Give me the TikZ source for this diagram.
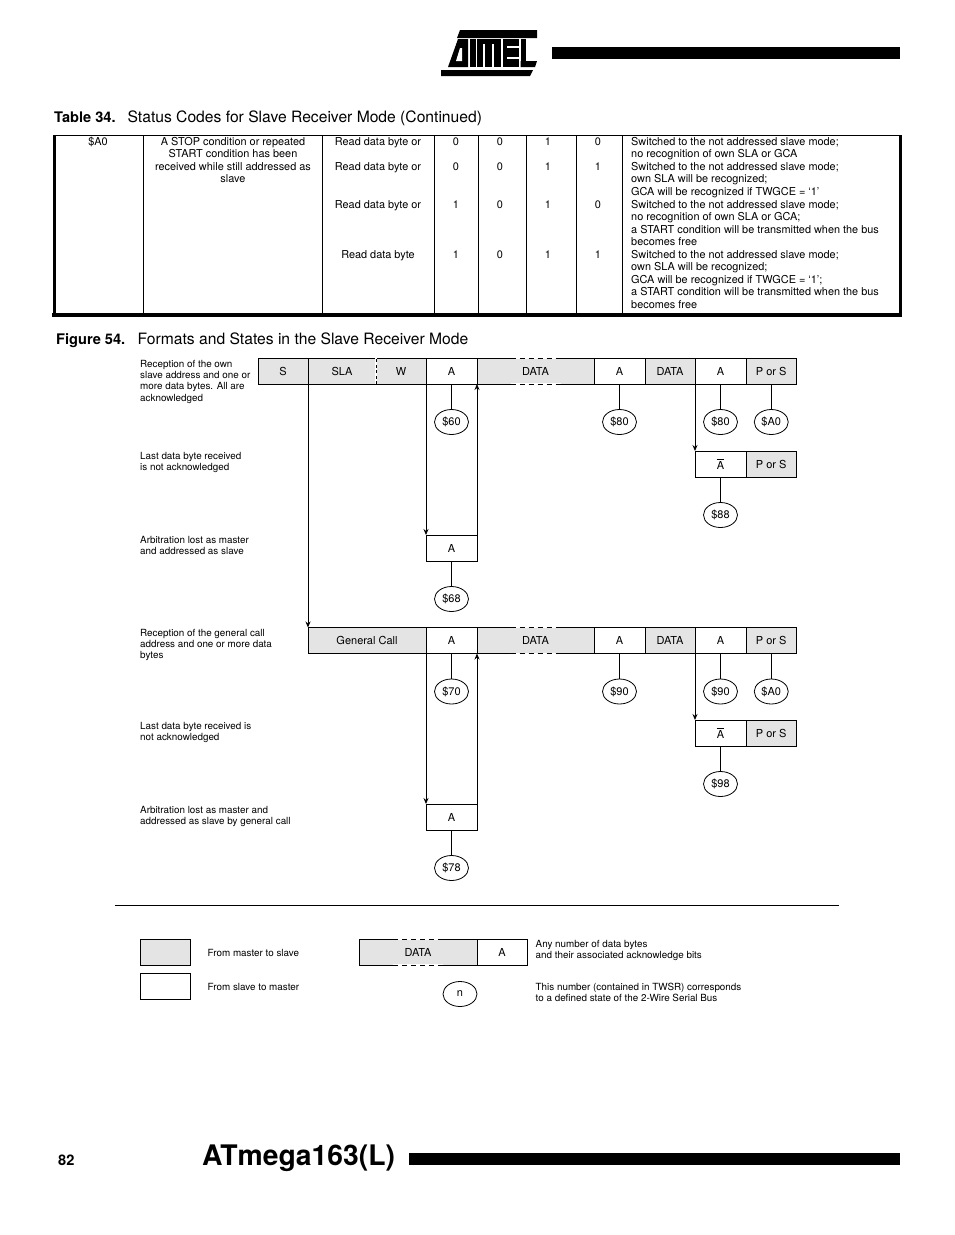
\documentclass[tikz,border=0pt]{standalone}
\usepackage{fontspec}
\setmainfont{TeX Gyre Heros}
\usepackage{tikz}
\usetikzlibrary{positioning,arrows.meta,shapes.geometric,calc}
\definecolor{mastergrey}{RGB}{228,228,228}
\tikzset{
  cell/.style={draw, line width=0.8pt, minimum height=26pt, minimum width=51pt, inner sep=0pt,
               outer sep=0pt, font=\fontsize{11}{13}\selectfont},
  greycell/.style={cell, fill=mastergrey},
  state/.style={draw, ellipse, line width=0.8pt, minimum width=34pt, minimum height=25pt,
                inner sep=0pt, outer sep=0pt, font=\fontsize{11}{13}\selectfont},
  note/.style={anchor=north west, align=left, inner sep=0pt, font=\fontsize{9.85}{11.2}\selectfont},
  tabletext/.style={anchor=north, align=center, inner sep=0pt, font=\fontsize{10.9}{12.5}\selectfont},
  tableleft/.style={tabletext, anchor=north west, align=left},
  title/.style={anchor=base west, inner sep=0pt, font=\fontsize{15.65}{17}\selectfont},
  arrow/.style={-{Stealth[length=6pt,width=5pt]}, line width=0.8pt},
  link/.style={line width=0.8pt},
  rulethin/.style={line width=0.9pt},
  rulethick/.style={line width=3.2pt},
}
% white gap with dashes over the top and bottom border of a data cell
\newcommand{\datagap}[1]{
  \foreach \side in {north,south} {
    \draw[white, line width=1.2pt] ($(#1.\side)+(-25,0)$) -- ($(#1.\side)+(25,0)$);
    \draw[line width=0.8pt, dash pattern=on 5pt off 4pt] ($(#1.\side)+(-25,0)$) -- ($(#1.\side)+(25,0)$);
  }
}
\begin{document}
\begin{tikzpicture}[x=1pt, y=-1pt, node distance=25.5pt]
  \useasboundingbox (0,0) rectangle (954,1235);

  % Header
  \fill (460,30) -- (537,30) -- (537,38) -- (457,38) -- cycle;
  \fill (448,67) -- (458,39) -- (468,39) -- (468,67) -- cycle;
  \fill[white] (456,61) -- (460,48) -- (462,48) -- (462,61) -- cycle;
  \fill (469.5,39) rectangle (475.5,67);
  \fill (477,39) rectangle (501,67);
  \fill[white] (483,44) rectangle (485,67);
  \fill[white] (492,44) rectangle (494,67);
  \fill (502.5,39) rectangle (519,67);
  \fill[white] (507,46) rectangle (519,48);
  \fill[white] (507,57) rectangle (519,59);
  \fill (520.5,39) rectangle (526,67);
  \fill (520.5,61) -- (537,61) -- (535,67) -- (520.5,67) -- cycle;
  \fill (441,70) -- (533,70) -- (530,76) -- (441,76) -- cycle;
  \fill (552,47) rectangle (900,59);

  % Table
  \node[title] (tabletitle) at (54,122) {\textbf{\fontsize{14.6}{17}\selectfont Table 34.}\hspace{12pt}Status Codes for Slave Receiver Mode (Continued)};
  \draw[rulethin] (54,135) -- (900,135);
  \foreach \colx in {143,322,434,478,526,576,622}
    \draw[rulethin] (\colx,135) -- (\colx,315);
  \draw[rulethick] (54.5,135) -- (54.5,315);
  \draw[rulethick] (900.5,135) -- (900.5,315);
  \draw[rulethick] (52,315) -- (902,315);

  \node[tabletext] (code) at (98,137) {\$A0};
  \node[tabletext] (cond) at (233,137) {A STOP condition or repeated\\START condition has been\\received while still addressed as\\slave};

  \node[tabletext] (read1) at (378,137) {Read data byte or};
  \node[tabletext] (read2) at (378,162) {Read data byte or};
  \node[tabletext] (read3) at (378,200) {Read data byte or};
  \node[tabletext] (read4) at (378,250) {Read data byte};

  \foreach \rowy/\bita/\bitb/\bitc/\bitd in {137.5/0/0/1/0,162.5/0/0/1/1,200.5/1/0/1/0,250.5/1/0/1/1} {
    \node[tabletext] at (456,\rowy) {\bita};
    \node[tabletext] at (500,\rowy) {\bitb};
    \node[tabletext] at (548,\rowy) {\bitc};
    \node[tabletext] at (598,\rowy) {\bitd};
  }

  \node[tableleft] (act1) at (631,137) {Switched to the not addressed slave mode;\\no recognition of own SLA or GCA};
  \node[tableleft] (act2) at (631,162) {Switched to the not addressed slave mode;\\own SLA will be recognized;\\GCA will be recognized if TWGCE = ‘1’};
  \node[tableleft] (act3) at (631,200) {Switched to the not addressed slave mode;\\no recognition of own SLA or GCA;\\a START condition will be transmitted when the bus\\becomes free};
  \node[tableleft] (act4) at (631,250) {Switched to the not addressed slave mode;\\own SLA will be recognized;\\GCA will be recognized if TWGCE = ‘1’;\\a START condition will be transmitted when the bus\\becomes free};

  % Figure title
  \node[title] (figtitle) at (56,344) {\textbf{\fontsize{14.6}{17}\selectfont Figure 54.}\hspace{12.5pt}Formats and States in the Slave Receiver Mode};

  % Own address row
  \node[greycell, minimum width=50pt, anchor=north west] (S) at (258,358) {S};
  \node[greycell, minimum width=68pt, right=0pt of S] (SLA) {SLA};
  \node[greycell, minimum width=50pt, right=0pt of SLA] (W) {W};
  \node[cell, right=0pt of W] (A1) {A};
  \node[greycell, minimum width=117pt, right=0pt of A1] (D1) {DATA};
  \node[cell, right=0pt of D1] (A2) {A};
  \node[greycell, minimum width=50pt, right=0pt of A2] (D2) {DATA};
  \node[cell, right=0pt of D2] (A3) {A};
  \node[greycell, minimum width=50.5pt, right=0pt of A3] (PS1) {P or S};
  \datagap{D1}
  \draw[white, line width=1.2pt] (SLA.south east) -- (SLA.north east);
  \draw[line width=0.8pt, dash pattern=on 3pt off 2.5pt] (SLA.south east) -- (SLA.north east);

  \node[state, below=of A1] (s60) {\$60};
  \node[state, below=of A2] (s80a) {\$80};
  \node[state, below=of A3] (s80b) {\$80};
  \node[state, below=of PS1] (sA0a) {\$A0};
  \draw[link] (A1) -- (s60);
  \draw[link] (A2) -- (s80a);
  \draw[link] (A3) -- (s80b);
  \draw[link] (PS1) -- (sA0a);

  \node[cell, anchor=north west] (NA1) at (695,451) {$\overline{\mbox{A}}$};
  \node[greycell, minimum width=50.5pt, right=0pt of NA1] (PS2) {P or S};
  \node[state, below=of NA1] (s88) {\$88};
  \draw[link] (NA1) -- (s88);
  \draw[arrow] (A3.south west) -- (NA1.north west);

  \node[cell, anchor=north west] (AL1) at (426,535) {A};
  \node[state, below=of AL1] (s68) {\$68};
  \draw[link] (AL1) -- (s68);
  \draw[arrow] (A1.south west) -- (AL1.north west);
  \draw[arrow] (AL1.north east) -- (A1.south east);

  % General call row
  \node[greycell, minimum width=118pt, anchor=north west] (GC) at (308,627.5) {General Call};
  \node[cell, right=0pt of GC] (A4) {A};
  \node[greycell, minimum width=117pt, right=0pt of A4] (D3) {DATA};
  \node[cell, right=0pt of D3] (A5) {A};
  \node[greycell, minimum width=50pt, right=0pt of A5] (D4) {DATA};
  \node[cell, right=0pt of D4] (A6) {A};
  \node[greycell, minimum width=50.5pt, right=0pt of A6] (PS3) {P or S};
  \datagap{D3}
  \draw[arrow] (S.south east) -- (GC.north west);

  \node[state, below=of A4] (s70) {\$70};
  \node[state, below=of A5] (s90a) {\$90};
  \node[state, below=of A6] (s90b) {\$90};
  \node[state, below=of PS3] (sA0b) {\$A0};
  \draw[link] (A4) -- (s70);
  \draw[link] (A5) -- (s90a);
  \draw[link] (A6) -- (s90b);
  \draw[link] (PS3) -- (sA0b);

  \node[cell, anchor=north west] (NA2) at (695,720) {$\overline{\mbox{A}}$};
  \node[greycell, minimum width=50.5pt, right=0pt of NA2] (PS4) {P or S};
  \node[state, below=of NA2] (s98) {\$98};
  \draw[link] (NA2) -- (s98);
  \draw[arrow] (A6.south west) -- (NA2.north west);

  \node[cell, anchor=north west] (AL2) at (426,804) {A};
  \node[state, below=of AL2] (s78) {\$78};
  \draw[link] (AL2) -- (s78);
  \draw[arrow] (A4.south west) -- (AL2.north west);
  \draw[arrow] (AL2.north east) -- (A4.south east);

  % Row notes
  \node[note] (n1) at (140,360) {Reception of the own\\slave address and one or\\more data bytes.  All are\\acknowledged};
  \node[note] (n2) at (140,452) {Last data byte received\\is not acknowledged};
  \node[note] (n3) at (140,536) {Arbitration lost as master\\and addressed as slave};
  \node[note] (n4) at (140,629) {Reception of the general call\\address and one or more data\\bytes};
  \node[note] (n5) at (140,722) {Last data byte received is\\not acknowledged};
  \node[note] (n6) at (140,806) {Arbitration lost as master and\\addressed as slave by general call};

  % Legend
  \draw[rulethin] (115,905.5) -- (839,905.5);
  \node[greycell, minimum width=50pt, anchor=north west] (keym) at (140,939) {};
  \node[cell, minimum width=50pt, anchor=north west] (keys) at (140,973) {};
  \node[note] (keymtext) at (207.5,949) {From master to slave};
  \node[note] (keystext) at (207.5,983) {From slave to master};
  \node[greycell, minimum width=118pt, anchor=north west] (keyd) at (359,939) {DATA};
  \node[cell, minimum width=50pt, right=0pt of keyd] (keya) {A};
  \datagap{keyd}
  \node[state] (keyn) at (460,994) {n};
  \node[note] (keydtext) at (535.5,940) {Any number of data bytes\\and their associated acknowledge bits};
  \node[note] (keyntext) at (535.5,983) {This number (contained in TWSR) corresponds\\to a defined state of the 2-Wire Serial Bus};

  % Footer
  \node[anchor=base west, inner sep=0pt, font=\fontsize{14.6}{17}\selectfont\bfseries] (pagenum) at (58,1165) {82};
  \node[anchor=base west, inner sep=0pt, font=\fontsize{28.3}{33}\selectfont\bfseries] (partname) at (202,1165) {ATmega163(L)};
  \fill (409,1153) rectangle (900,1165);
\end{tikzpicture}
\end{document}
